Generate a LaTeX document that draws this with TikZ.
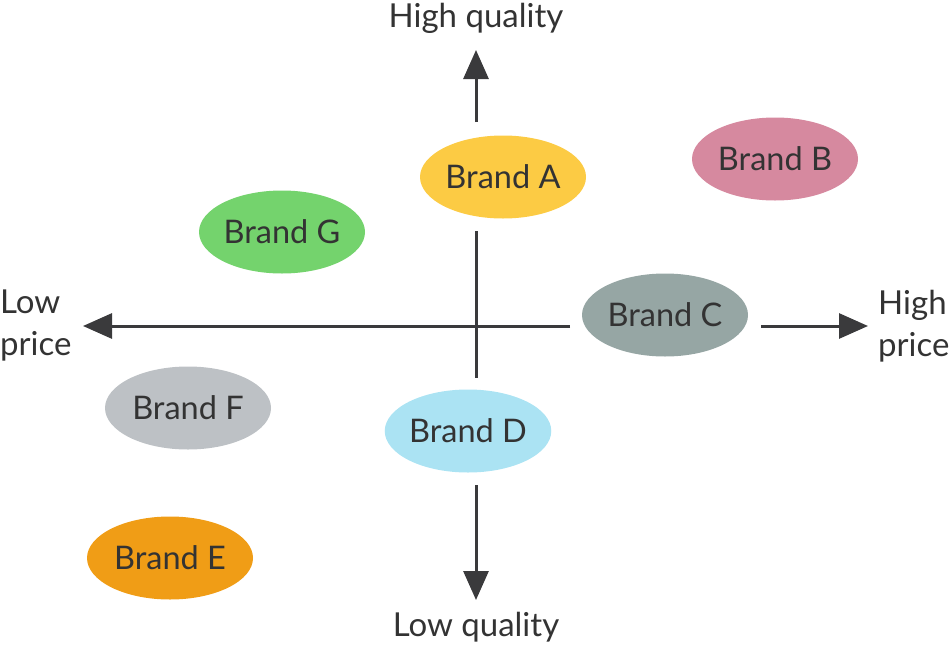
\documentclass[tikz,border=0pt]{standalone}
\usepackage{fontspec}
\setmainfont{Lato}
\usetikzlibrary{shapes.geometric,arrows.meta}
\definecolor{axis}{HTML}{3A3A3C}
\definecolor{txt}{HTML}{333333}
\definecolor{cA}{HTML}{FCCB44}
\definecolor{cB}{HTML}{D6899F}
\definecolor{cC}{HTML}{96A6A4}
\definecolor{cD}{HTML}{ABE3F3}
\definecolor{cE}{HTML}{F09D16}
\definecolor{cF}{HTML}{BDC1C5}
\definecolor{cG}{HTML}{74D36D}
\tikzset{
  brand/.style={ellipse, draw=none, minimum width=166pt, minimum height=83pt, inner sep=0pt,
    text=txt, font=\fontsize{32.5}{38}\selectfont},
  lbl/.style={text=txt, font=\fontsize{33}{42}\selectfont, inner sep=0pt, align=center},
  axisline/.style={draw=axis, line width=3pt},
  axisarrow/.style={axisline, -{Triangle[length=29pt,width=25pt]}},
}
\begin{document}
\begin{tikzpicture}[x=1pt,y=-1pt]
\useasboundingbox (0,0) rectangle (950,648);
% brands
\node[brand, fill=cA] (A) at (503,177) {Brand A};
\node[brand, fill=cB] (B) at (775,159) {Brand B};
\node[brand, fill=cG] (G) at (282,232) {Brand G};
\node[brand, fill=cC] (C) at (665,315) {Brand C};
\node[brand, fill=cF] (F) at (188,408) {Brand F};
\node[brand, fill=cD] (D) at (468,431) {Brand D};
\node[brand, fill=cE] (E) at (170,558) {Brand E};
% axis labels
\node[lbl] (hq) at (476,18) {High quality};
\node[lbl] (lq) at (476,627) {Low quality};
\node[lbl, align=left, anchor=west] (lp) at (0,326) {Low\\price};
\node[lbl, align=left, anchor=west] (hp) at (878,326) {High\\price};
% axis coordinates
\coordinate (vtop) at (476,50);
\coordinate (vtopst) at (476,122);
\coordinate (vmidst) at (476,231);
\coordinate (vmiden) at (476,378);
\coordinate (vbotst) at (476,485);
\coordinate (vbot) at (476,600);
\coordinate (hleft) at (83,326);
\coordinate (hleftst) at (570,326);
\coordinate (hrightst) at (761,326);
\coordinate (hright) at (868,326);
% axes
\draw[axisarrow] (vtopst) -- (vtop);
\draw[axisline] (vmidst) -- (vmiden);
\draw[axisarrow] (vbotst) -- (vbot);
\draw[axisarrow] (hleftst) -- (hleft);
\draw[axisarrow] (hrightst) -- (hright);
\end{tikzpicture}
\end{document}
